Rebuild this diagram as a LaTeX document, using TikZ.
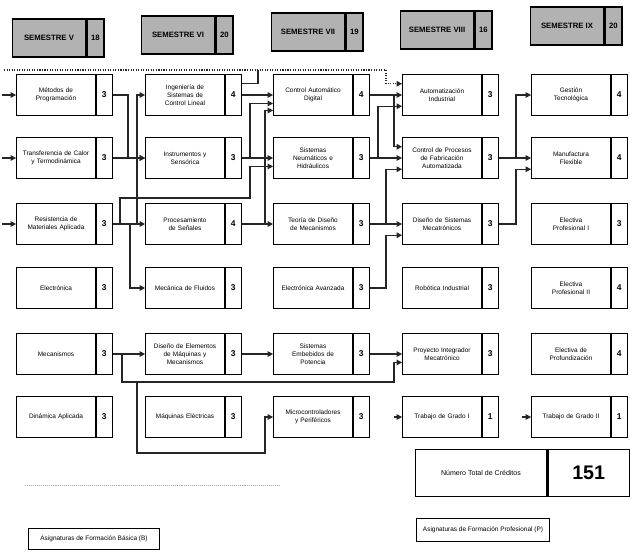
\documentclass[tikz,border=0pt]{standalone}
\usepackage{fontspec}
\setmainfont{Liberation Sans}
\usetikzlibrary{arrows.meta}

\begin{document}
\begin{tikzpicture}[x=0.025cm, y=-0.025cm, font=\fontsize{4.6}{5.6}\selectfont]

\colorlet{cHead}{black!30}
\colorlet{cLink}{black!85}
\colorlet{cFaint}{black!35}

\tikzset{
  subj/.style  = {draw, line width=0.7pt, minimum width=56pt, minimum height=29pt,
                  inner sep=1pt, text width=53pt, align=center},
  cred/.style  = {draw, line width=0.7pt, minimum width=11.3pt, minimum height=29pt,
                  inner sep=0pt, anchor=west, font=\fontsize{6}{7}\selectfont\bfseries},
  head/.style  = {draw, line width=1pt, fill=cHead, minimum width=52pt, minimum height=27pt,
                  inner sep=1pt, font=\fontsize{5.5}{6.5}\selectfont\bfseries},
  headn/.style = {draw, line width=1pt, fill=cHead, minimum width=12pt, minimum height=27pt,
                  inner sep=0pt, anchor=west, font=\fontsize{5.5}{6.5}\selectfont\bfseries},
  link/.style  = {cLink, line width=0.8pt, -{Triangle[length=4pt,width=4pt]}},
  wire/.style  = {cLink, line width=0.8pt},
}

\useasboundingbox (0,0) rectangle (630,552);

%% ---------- semester heads ----------
\node[head] (h1) at (49,38) {SEMESTRE V};
\node[headn] (h1n) at (h1.east) {18};
\node[head] (h2) at (178,35) {SEMESTRE VI};
\node[headn] (h2n) at (h2.east) {20};
\node[head] (h3) at (308,32) {SEMESTRE VII};
\node[headn] (h3n) at (h3.east) {19};
\node[head] (h4) at (437,30) {SEMESTRE VIII};
\node[headn] (h4n) at (h4.east) {16};
\node[head] (h5) at (567,26) {SEMESTRE IX};
\node[headn] (h5n) at (h5.east) {20};

%% ---------- semester V ----------
\node[subj] (c1r1) at (56,95) {Métodos de\\Programación};
\node[cred] (c1r1n) at (c1r1.east) {3};
\node[subj] (c1r2) at (56,158) {Transferencia de Calor\\y Termodinámica};
\node[cred] (c1r2n) at (c1r2.east) {3};
\node[subj] (c1r3) at (56,224) {Resistencia de\\Materiales Aplicada};
\node[cred] (c1r3n) at (c1r3.east) {3};
\node[subj] (c1r4) at (56,288) {Electrónica};
\node[cred] (c1r4n) at (c1r4.east) {3};
\node[subj] (c1r5) at (56,354) {Mecanismos};
\node[cred] (c1r5n) at (c1r5.east) {3};
\node[subj] (c1r6) at (56,417) {Dinámica Aplicada};
\node[cred] (c1r6n) at (c1r6.east) {3};

%% ---------- semester VI ----------
\node[subj] (c2r1) at (185,95) {Ingeniería de\\Sistemas de\\Control Lineal};
\node[cred] (c2r1n) at (c2r1.east) {4};
\node[subj] (c2r2) at (185,158) {Instrumentos y\\Sensórica};
\node[cred] (c2r2n) at (c2r2.east) {3};
\node[subj] (c2r3) at (185,224) {Procesamiento\\de Señales};
\node[cred] (c2r3n) at (c2r3.east) {4};
\node[subj] (c2r4) at (185,288) {Mecánica de Fluidos};
\node[cred] (c2r4n) at (c2r4.east) {3};
\node[subj] (c2r5) at (185,354) {Diseño de Elementos\\de Máquinas y\\Mecanismos};
\node[cred] (c2r5n) at (c2r5.east) {3};
\node[subj] (c2r6) at (185,417) {Máquinas Eléctricas};
\node[cred] (c2r6n) at (c2r6.east) {3};

%% ---------- semester VII ----------
\node[subj] (c3r1) at (313,95) {Control Automático\\Digital};
\node[cred] (c3r1n) at (c3r1.east) {4};
\node[subj] (c3r2) at (313,158) {Sistemas\\Neumáticos e\\Hidráulicos};
\node[cred] (c3r2n) at (c3r2.east) {3};
\node[subj] (c3r3) at (313,224) {Teoría de Diseño\\de Mecanismos};
\node[cred] (c3r3n) at (c3r3.east) {3};
\node[subj] (c3r4) at (313,288) {Electrónica Avanzada};
\node[cred] (c3r4n) at (c3r4.east) {3};
\node[subj] (c3r5) at (313,354) {Sistemas\\Embebidos de\\Potencia};
\node[cred] (c3r5n) at (c3r5.east) {3};
\node[subj] (c3r6) at (313,417) {Microcontroladores\\y Periféricos};
\node[cred] (c3r6n) at (c3r6.east) {3};

%% ---------- semester VIII ----------
\node[subj] (c4r1) at (442,95) {Automatización\\Industrial};
\node[cred] (c4r1n) at (c4r1.east) {3};
\node[subj] (c4r2) at (442,158) {Control de Procesos\\de Fabricación\\Automatizada};
\node[cred] (c4r2n) at (c4r2.east) {3};
\node[subj] (c4r3) at (442,224) {Diseño de Sistemas\\Mecatrónicos};
\node[cred] (c4r3n) at (c4r3.east) {3};
\node[subj] (c4r4) at (442,288) {Robótica Industrial};
\node[cred] (c4r4n) at (c4r4.east) {3};
\node[subj] (c4r5) at (442,354) {Proyecto Integrador\\Mecatrónico};
\node[cred] (c4r5n) at (c4r5.east) {3};
\node[subj] (c4r6) at (442,417) {Trabajo de Grado I};
\node[cred] (c4r6n) at (c4r6.east) {1};

%% ---------- semester IX ----------
\node[subj] (c5r1) at (571,95) {Gestión\\Tecnológica};
\node[cred] (c5r1n) at (c5r1.east) {4};
\node[subj] (c5r2) at (571,158) {Manufactura\\Flexible};
\node[cred] (c5r2n) at (c5r2.east) {4};
\node[subj] (c5r3) at (571,224) {Electiva\\Profesional I};
\node[cred] (c5r3n) at (c5r3.east) {3};
\node[subj] (c5r4) at (571,288) {Electiva\\Profesional II};
\node[cred] (c5r4n) at (c5r4.east) {4};
\node[subj] (c5r5) at (571,354) {Electiva de\\Profundización};
\node[cred] (c5r5n) at (c5r5.east) {4};
\node[subj] (c5r6) at (571,417) {Trabajo de Grado II};
\node[cred] (c5r6n) at (c5r6.east) {1};

%% ---------- totals and legend ----------
\node[draw, line width=0.8pt, minimum width=93.6pt, minimum height=33pt,
      font=\fontsize{5}{6}\selectfont] (tot) at (481,473) {Número Total de Créditos};
\node[draw, line width=0.8pt, minimum width=58pt, minimum height=33pt, anchor=west,
      font=\fontsize{14}{16}\selectfont\bfseries] (totn) at (tot.east) {151};
\node[draw, line width=0.7pt, minimum width=93pt, minimum height=15pt] (leg1) at (94,539)
  {Asignaturas de Formación Básica (B)};
\node[draw, line width=0.7pt, minimum width=94pt, minimum height=17pt] (leg2) at (483,530)
  {Asignaturas de Formación Profesional (P)};

\draw[cFaint, densely dotted] (25,485) -- (280,485);

%% ---------- free ends ----------
\coordinate (in1) at (2,95);
\coordinate (in2) at (2,158);
\coordinate (in3) at (2,224);
\coordinate (in4) at (394,417);
\coordinate (in5) at (522,417);
\coordinate (intop) at (4,70);
\coordinate (topj) at (258,70);

%% ---------- V -> VI ----------
\draw[link] (in1) -- (c1r1.west);
\draw[link] (in2) -- (c1r2.west);
\draw[link] (in3) -- (c1r3.west);
\draw[link] (c1r1n.east) -- (128,95) |- (c2r2.west);
\draw[link] (c1r2n.east) -- (c2r2.west);
\draw[link] (c1r3n.east) -- (c2r3.west);
\draw[link] (c1r3n.east) -- (137,224) |- (c2r1.west);
\draw[link] (c1r3n.east) -- (130,224) |- (c2r4.west);
\draw[link] (c1r3n.east) -- (120,224) -- (120,198) -- (250,198) |- ([yshift=-6pt]c3r2.west);
\draw[link] (c1r5n.east) -- (c2r5.west);
\draw[link] (c1r5n.east) -- (122,354) -- (122,382) -- (394,382) |- ([yshift=-6pt]c4r5.west);
\draw[link] (c1r5n.east) -- (122,354) -- (122,382) -- (137,382) -- (137,453)
  -- (265,453) |- (c3r6.west);

%% ---------- VI -> VII ----------
\draw[link, densely dotted] (intop) -- (386,70) |- ([yshift=8pt]c4r1.west);
\draw[wire] ([yshift=8pt]c2r1n.east) -| (topj);
\draw[link] (c2r1n.east) -- (c3r1.west);
\draw[link] (c2r2n.east) -- (250,158) |- ([yshift=-6pt]c3r1.west);
\draw[link] (c2r2n.east) -- (c3r2.west);
\draw[link] (c2r3n.east) -- (c3r3.west);
\draw[link] (c2r3n.east) -- (265,224) |- ([yshift=-11pt]c3r1.west);
\draw[link] (c2r5n.east) -- (c3r5.west);

%% ---------- VII -> VIII ----------
\draw[link] (c3r1n.east) -- (c4r1.west);
\draw[link] (c3r1n.east) -- (394,95) |- ([yshift=8pt]c4r2.west);
\draw[link] (c3r2n.east) -- (378,158) |- ([yshift=-8pt]c4r1.west);
\draw[link] (c3r2n.east) -- (c4r2.west);
\draw[link] (c3r3n.east) -- (386,224) |- ([yshift=-8pt]c4r2.west);
\draw[link] (c3r3n.east) -- (c4r3.west);
\draw[link] (c3r4n.east) -- (386,288) |- ([yshift=-8pt]c4r3.west);
\draw[link] (c3r5n.east) -- (c4r5.west);
\draw[link] (in4) -- (c4r6.west);

%% ---------- VIII -> IX ----------
\draw[link] (c4r2n.east) -- (516,158) |- (c5r1.west);
\draw[link] (c4r2n.east) -- (c5r2.west);
\draw[link] (c4r3n.east) -- (516,224) |- ([yshift=-8pt]c5r2.west);
\draw[link] (in5) -- (c5r6.west);

\end{tikzpicture}
\end{document}
